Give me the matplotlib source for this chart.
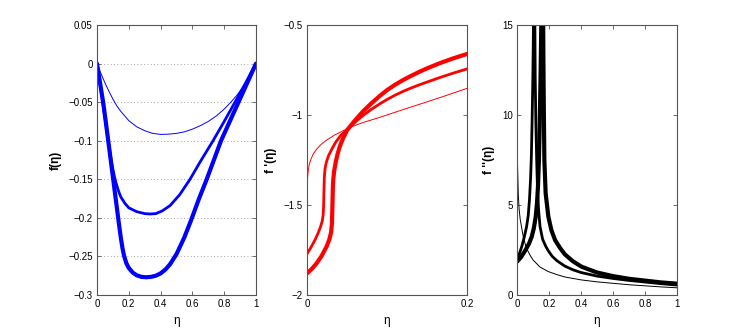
import matplotlib
matplotlib.use("Agg")
import matplotlib.pyplot as plt

plt.rcParams['font.family'] = ['Liberation Sans', 'DejaVu Sans']

# ---- data: f(eta) (left panel) ----
f_thin_x = [0, 0.025, 0.05, 0.075, 0.1, 0.125, 0.15, 0.2, 0.25, 0.3, 0.35, 0.4, 0.45, 0.5, 0.55, 0.6, 0.65, 0.7, 0.75, 0.8, 0.84, 0.88, 0.92, 0.96, 1.0]
f_thin_y = [0, -0.013, -0.025, -0.036, -0.046, -0.055, -0.062, -0.074, -0.082, -0.087, -0.0905, -0.0918, -0.0915, -0.0905, -0.0885, -0.085, -0.0805, -0.075, -0.068, -0.059, -0.0505, -0.041, -0.03, -0.016, 0]

f_med_x = [0, 0.02, 0.04, 0.06, 0.075, 0.09, 0.1, 0.11, 0.12, 0.135, 0.15, 0.175, 0.2, 0.25, 0.3, 0.333, 0.37, 0.41, 0.46, 0.52, 0.585, 0.65, 0.73, 0.8, 0.868, 0.935, 1.0]
f_med_y = [0, -0.028, -0.056, -0.085, -0.106, -0.126, -0.137, -0.147, -0.155, -0.165, -0.173, -0.181, -0.187, -0.192, -0.1945, -0.195, -0.1945, -0.191, -0.184, -0.17, -0.15, -0.127, -0.1, -0.075, -0.05, -0.025, 0]

f_thk_x = [0, 0.02, 0.04, 0.055, 0.07, 0.085, 0.1, 0.115, 0.13, 0.14, 0.15, 0.16, 0.17, 0.185, 0.2, 0.225, 0.25, 0.28, 0.31, 0.34, 0.37, 0.4, 0.43, 0.46, 0.5, 0.55, 0.59, 0.64, 0.69, 0.735, 0.78, 0.835, 0.89, 0.945, 1.0]
f_thk_y = [0, -0.026, -0.052, -0.075, -0.099, -0.123, -0.147, -0.171, -0.195, -0.211, -0.226, -0.239, -0.249, -0.259, -0.265, -0.271, -0.2745, -0.2765, -0.277, -0.2765, -0.275, -0.272, -0.267, -0.26, -0.247, -0.225, -0.204, -0.176, -0.15, -0.125, -0.1, -0.075, -0.05, -0.025, 0]

# ---- data: f'(eta) (middle panel) ----
fp_thin_x = [0, 0.0005, 0.0015, 0.003, 0.005, 0.008, 0.012, 0.018, 0.025, 0.035, 0.045, 0.054, 0.07, 0.091, 0.11, 0.129, 0.15, 0.175, 0.2]
fp_thin_y = [-1.42, -1.36, -1.31, -1.27, -1.245, -1.215, -1.19, -1.162, -1.138, -1.11, -1.088, -1.068, -1.042, -1.013, -0.985, -0.957, -0.927, -0.89, -0.852]

fp_med_x = [0, 0.005, 0.01, 0.014, 0.017, 0.019, 0.0202, 0.0208, 0.0212, 0.0216, 0.0225, 0.024, 0.027, 0.031, 0.036, 0.042, 0.0496, 0.054, 0.062, 0.07, 0.08, 0.091, 0.1, 0.11, 0.12, 0.129, 0.14, 0.15, 0.166, 0.183, 0.2]
fp_med_y = [-1.772, -1.735, -1.694, -1.655, -1.62, -1.59, -1.555, -1.5, -1.42, -1.35, -1.3, -1.265, -1.225, -1.19, -1.15, -1.115, -1.083, -1.064, -1.032, -1.003, -0.97, -0.938, -0.914, -0.89, -0.869, -0.852, -0.833, -0.817, -0.792, -0.767, -0.744]

fp_thk_x = [0, 0.006, 0.012, 0.018, 0.0246, 0.028, 0.0302, 0.0312, 0.0318, 0.0322, 0.0328, 0.034, 0.036, 0.038, 0.041, 0.045, 0.05, 0.054, 0.06, 0.07, 0.08, 0.091, 0.1, 0.11, 0.12, 0.129, 0.14, 0.15, 0.166, 0.183, 0.2]
fp_thk_y = [-1.88, -1.855, -1.824, -1.785, -1.73, -1.69, -1.65, -1.6, -1.5, -1.42, -1.36, -1.31, -1.26, -1.22, -1.175, -1.13, -1.085, -1.063, -1.03, -0.98, -0.937, -0.894, -0.862, -0.832, -0.806, -0.785, -0.761, -0.741, -0.712, -0.685, -0.661]

# ---- data: f''(eta) (right panel) ----
fpp_thin_x = [0, 0.002, 0.004, 0.008, 0.013, 0.02, 0.029, 0.04, 0.05, 0.065, 0.081, 0.1, 0.144, 0.196, 0.25, 0.3, 0.4, 0.5, 0.6, 0.7, 0.8, 0.9, 1.0]
fpp_thin_y = [8.6, 7.8, 7.0, 5.6, 4.8, 4.2, 3.75, 3.2, 2.87, 2.5, 2.22, 1.95, 1.55, 1.3, 1.13, 1.0, 0.84, 0.73, 0.65, 0.57, 0.51, 0.45, 0.4]

fpp_med_l_x = [0, 0.015, 0.03, 0.045, 0.06, 0.07, 0.078, 0.085, 0.09, 0.094, 0.098, 0.101, 0.104]
fpp_med_l_y = [2.05, 2.3, 2.7, 3.2, 3.8, 4.4, 5.3, 6.5, 7.8, 9.5, 11.5, 13.5, 16.0]
fpp_med_r_x = [0.111, 0.114, 0.118, 0.123, 0.129, 0.136, 0.144, 0.16, 0.18, 0.196, 0.22, 0.25, 0.3, 0.35, 0.4, 0.5, 0.6, 0.7, 0.8, 0.9, 1.0]
fpp_med_r_y = [16.0, 12.0, 9.5, 7.5, 5.6, 4.6, 3.8, 3.1, 2.7, 2.45, 2.15, 1.9, 1.6, 1.4, 1.25, 1.05, 0.92, 0.81, 0.72, 0.63, 0.55]

fpp_thk_l_x = [0, 0.025, 0.05, 0.075, 0.092, 0.105, 0.117, 0.125, 0.131, 0.137, 0.142, 0.147, 0.151, 0.154]
fpp_thk_l_y = [1.85, 2.1, 2.45, 2.85, 3.24, 3.7, 4.35, 5.1, 6.0, 7.5, 9.5, 12.0, 14.5, 16.0]
fpp_thk_r_x = [0.163, 0.165, 0.168, 0.171, 0.179, 0.196, 0.215, 0.238, 0.27, 0.3, 0.35, 0.404, 0.5, 0.6, 0.7, 0.8, 0.9, 1.0]
fpp_thk_r_y = [16.0, 13.0, 10.0, 7.5, 5.65, 4.35, 3.6, 3.05, 2.6, 2.25, 1.87, 1.57, 1.25, 1.05, 0.9, 0.8, 0.7, 0.63]

xlabel_text = 'η'
ylabels = ['f(η)', "f '(η)", "f ''(η)"]

fig = plt.figure(figsize=(7.47, 3.32), dpi=100)
W, H = 747, 332
def box(x0, x1, y0, y1):
    return [x0 / W, (H - y1) / H, (x1 - x0) / W, (y1 - y0) / H]

ax1 = fig.add_axes(box(97, 256, 25, 295))
ax2 = fig.add_axes(box(307, 467, 25, 295))
ax3 = fig.add_axes(box(517, 677, 25, 295))

for ax in (ax1, ax2, ax3):
    ax.tick_params(direction='in', top=True, right=True, length=3, width=0.6,
                   labelsize=7, color='#555555', pad=3)
    for s in ax.spines.values():
        s.set_color('#555555')
        s.set_linewidth(0.8)

kw = dict(solid_joinstyle='round', solid_capstyle='round')

# left
ax1.plot(f_thin_x, f_thin_y, color='#0000ff', lw=0.7, **kw)
ax1.plot(f_med_x, f_med_y, color='#0000ff', lw=2.0, **kw)
ax1.plot(f_thk_x, f_thk_y, color='#0000ff', lw=3.0, **kw)
ax1.set_xlim(0, 1)
ax1.set_ylim(-0.3, 0.05)
ax1.set_xticks([0, 0.2, 0.4, 0.6, 0.8, 1])
ax1.set_xticklabels(['0', '0.2', '0.4', '0.6', '0.8', '1'])
yt = [-0.3, -0.25, -0.2, -0.15, -0.1, -0.05, 0, 0.05]
ax1.set_yticks(yt)
ax1.set_yticklabels(['\u22120.3', '\u22120.25', '\u22120.2', '\u22120.15', '\u22120.1', '\u22120.05', '0', '0.05'])
ax1.yaxis.grid(True, linestyle=(0, (1, 3)), color='#888888', linewidth=0.6)
ax1.set_axisbelow(True)

# middle
ax2.plot(fp_thin_x, fp_thin_y, color='#ff0000', lw=0.7, **kw)
ax2.plot(fp_med_x, fp_med_y, color='#ff0000', lw=2.0, **kw)
ax2.plot(fp_thk_x, fp_thk_y, color='#ff0000', lw=3.0, **kw)
ax2.set_xlim(0, 0.2)
ax2.set_ylim(-2, -0.5)
ax2.set_xticks([0, 0.2])
ax2.set_xticklabels(['0', '0.2'])
ax2.set_yticks([-2, -1.5, -1, -0.5])
ax2.set_yticklabels(['\u22122', '\u22121.5', '\u22121', '\u22120.5'])

# right
ax3.plot(fpp_thin_x, fpp_thin_y, color='black', lw=0.7, **kw)
ax3.plot(fpp_med_l_x, fpp_med_l_y, color='black', lw=2.0, **kw)
ax3.plot(fpp_med_r_x, fpp_med_r_y, color='black', lw=2.0, **kw)
ax3.plot(fpp_thk_l_x, fpp_thk_l_y, color='black', lw=3.0, **kw)
ax3.plot(fpp_thk_r_x, fpp_thk_r_y, color='black', lw=3.0, **kw)
ax3.set_xlim(0, 1)
ax3.set_ylim(0, 15)
ax3.set_xticks([0, 0.2, 0.4, 0.6, 0.8, 1])
ax3.set_xticklabels(['0', '0.2', '0.4', '0.6', '0.8', '1'])
ax3.set_yticks([0, 5, 10, 15])

for ax, yl in zip((ax1, ax2, ax3), ylabels):
    ax.set_xlabel(xlabel_text, fontsize=8.5, labelpad=4)
    ax.set_ylabel(yl, fontsize=8.5, fontweight='bold', labelpad=5)

fig.savefig('out.png', dpi=100)
